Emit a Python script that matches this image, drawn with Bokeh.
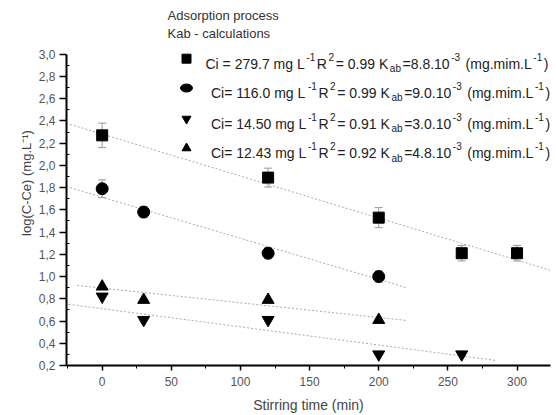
import numpy as np
from bokeh.plotting import figure
from bokeh.models import (Range1d, FixedTicker, CustomJSTickFormatter, Label,
                          Whisker, ColumnDataSource, TeeHead, Title)
from bokeh.embed import file_html
from bokeh.resources import INLINE

# ---------------- data ----------------
sq_x = [0, 120, 200, 260, 300]
sq_y = [2.27, 1.89, 1.53, 1.21, 1.21]
sq_err = [0.11, 0.085, 0.09, 0.07, 0.07]

ci_x = [0, 30, 120, 200]
ci_y = [1.79, 1.58, 1.21, 1.00]
ci_err = [0.08, 0.05, 0.05, 0.05]

dn_x = [0, 30, 120, 200, 260]
dn_y = [0.82, 0.61, 0.61, 0.30, 0.30]

up_x = [0, 30, 120, 200]
up_y = [0.91, 0.79, 0.79, 0.61]

fit_sq_x = [-26, 326]
fit_sq_y = [2.38, 1.05]
fit_ci_x = [-26, 220]
fit_ci_y = [1.81, 0.90]
fit_up_x = [-18, 220]
fit_up_y = [0.92, 0.605]
fit_dn_x = [-30, 285]
fit_dn_y = [0.76, 0.245]

x_ticks = [0, 50, 100, 150, 200, 250, 300]
x_minor = [-25, 25, 75, 125, 175, 225, 275, 325]
y_ticks = [0.2, 0.4, 0.6, 0.8, 1.0, 1.2, 1.4, 1.6, 1.8, 2.0, 2.2, 2.4, 2.6, 2.8, 3.0]
y_minor = [0.3, 0.5, 0.7, 0.9, 1.1, 1.3, 1.5, 1.7, 1.9, 2.1, 2.3, 2.5, 2.7, 2.9]

legend_title = ["Adsorption process", "Kab - calculations"]
legend_ci = ["279.7", "116.0", "14.50", "12.43"]
legend_r2 = ["0.99", "0.99", "0.91", "0.92"]
legend_kab = ["8.8", "9.0", "3.0", "4.8"]
legend_markers = ["square", "circle", "inverted_triangle", "triangle"]

# ---------------- layout ----------------
W, H = 556, 415
FL, FR, FB = 66, 6, 48
FW = W - FL - FR
AXIS_TOP_PX = 54          # pixel row of the 3,0 tick
FH = H - FB               # frame spans from the top of the canvas
X0, X1 = -25.8, 324.2
Y0, Y1 = 0.2, 3.0
YTOP = Y1 + AXIS_TOP_PX * (Y1 - Y0) / (FH - AXIS_TOP_PX)
FONT = "Liberation Sans"


def px2x(px):
    return X0 + (px - FL) / FW * (X1 - X0)


def py2y(py):
    return YTOP - py / FH * (YTOP - Y0)


p = figure(width=W, height=H, x_range=Range1d(X0, X1), y_range=Range1d(Y0, YTOP),
           output_backend="svg", toolbar_location=None,
           min_border_left=FL, min_border_right=FR, min_border_top=0,
           min_border_bottom=FB)
p.outline_line_color = None
p.xgrid.visible = False
p.ygrid.visible = False
p.background_fill_color = "white"
p.border_fill_color = "white"

# axes
xa = p.xaxis[0]
xa.ticker = FixedTicker(ticks=x_ticks, minor_ticks=x_minor)
xa.axis_label = "Stirring time (min)"
ya = p.yaxis[0]
ya.ticker = FixedTicker(ticks=y_ticks, minor_ticks=y_minor)
ya.formatter = CustomJSTickFormatter(code="return tick.toFixed(1).replace('.', ',');")
ya.bounds = (Y0, Y1)
for ax in (xa, ya):
    ax.axis_line_color = "black"
    ax.axis_line_width = 2
    ax.major_tick_line_color = "black"
    ax.minor_tick_line_color = "black"
    ax.major_tick_line_width = 1.5
    ax.major_label_text_font = FONT
    ax.major_label_text_font_size = "12px"
    ax.major_label_text_color = "#555555"
    ax.axis_label_text_font = FONT
    ax.axis_label_text_font_style = "normal"
    ax.axis_label_text_color = "#444444"
xa.major_tick_in = 0
xa.major_tick_out = 5
xa.minor_tick_in = 0
xa.minor_tick_out = 3
xa.major_label_standoff = 6
xa.axis_label_standoff = 8
xa.axis_label_text_font_size = "14px"
ya.major_tick_in = 0
ya.major_tick_out = 7
ya.minor_tick_in = 3
ya.minor_tick_out = 0
ya.major_label_standoff = 4

# y axis label as a left-side title, shifted down to the centre of the axis
ylab = Title(text="log(C-Ce) (mg.L\u207b\u00b9)", align="center",
             offset=-(AXIS_TOP_PX / 2), standoff=3,
             text_font=FONT, text_font_size="13px", text_font_style="normal",
             text_color="#444444")
p.add_layout(ylab, "left")

# fit lines
for fx, fy in ((fit_sq_x, fit_sq_y), (fit_ci_x, fit_ci_y),
               (fit_up_x, fit_up_y), (fit_dn_x, fit_dn_y)):
    p.line(fx, fy, line_color="#aaaaaa", line_width=1, line_dash="2 2")

# error bars
for xs, ys, es in ((sq_x, sq_y, sq_err), (ci_x, ci_y, ci_err)):
    src = ColumnDataSource(dict(x=xs, up=[a + b for a, b in zip(ys, es)],
                                lo=[a - b for a, b in zip(ys, es)]))
    p.add_layout(Whisker(source=src, base="x", upper="up", lower="lo",
                         line_color="#999999", line_width=1,
                         upper_head=TeeHead(size=8, line_color="#999999"),
                         lower_head=TeeHead(size=8, line_color="#999999")))

# markers
p.scatter(sq_x, sq_y, marker="square", size=11, color="black")
p.scatter(ci_x, ci_y, marker="circle", size=12, color="black")
p.scatter(dn_x, dn_y, marker="inverted_triangle", size=12, color="black")
p.scatter(up_x, up_y, marker="triangle", size=12, color="black")

# ---------------- legend ----------------
AW = {' ': 278, '-': 333, '.': 278, '=': 584, '(': 333, ')': 333,
      'C': 722, 'K': 667, 'L': 556, 'R': 722, 'a': 556, 'b': 556, 'g': 556,
      'i': 222, 'm': 833}


def tw(s, size):
    return sum(AW.get(c, 556) for c in s) * size / 1000.0


for i, t in enumerate(legend_title):
    p.add_layout(Label(x=px2x(167), y=py2y([15, 33][i]), text=t,
                       text_font=FONT, text_font_size="13px",
                       text_color="#333333", text_baseline="middle"))

row_x0 = [205, 210.5, 210.5, 210.5]
row_y = [58.5, 88, 119, 148.5]
BS, SS = 14, 10
for i in range(4):
    mx, my = px2x(186), py2y(row_y[i])
    if legend_markers[i] == "circle":
        p.ellipse([mx], [my], width=12, height=8, width_units="screen",
                  height_units="screen", color="black")
    else:
        p.scatter([mx], [my], marker=legend_markers[i], size=9, color="black")
    first = "Ci = " if i == 0 else "Ci= "
    segs = [(first + legend_ci[i] + " mg L", 0), ("-1", 1), ("R", 0), ("2", 1),
            ("= " + legend_r2[i] + " K", 0), ("ab", -1),
            ("=" + legend_kab[i] + ".10", 0), ("-3", 1),
            (" (mg.mim.L", 0), ("-1", 1), (")", 0)]
    cx = row_x0[i]
    base = row_y[i] + 5
    for s, kind in segs:
        size = BS if kind == 0 else SS
        dy = 0 if kind == 0 else (7 if kind == 1 else -5)
        lead = len(s) - len(s.lstrip(" "))
        cx += tw(" " * lead, size)
        s = s.lstrip(" ")
        p.add_layout(Label(x=px2x(cx), y=py2y(base), y_offset=dy, text=s,
                           text_font=FONT, text_font_size=f"{size}px",
                           text_color="#222222", text_baseline="alphabetic"))
        cx += tw(s, size) + 1.6

open("out.html", "w").write(file_html(p, INLINE))
